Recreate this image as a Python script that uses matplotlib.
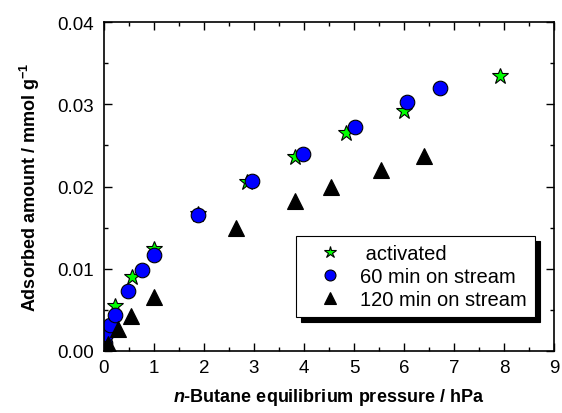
import matplotlib
matplotlib.use("Agg")
import matplotlib.pyplot as plt
from matplotlib.ticker import MultipleLocator

plt.rcParams["font.family"] = ["Liberation Sans", "DejaVu Sans"]
plt.rcParams["mathtext.fontset"] = "custom"
plt.rcParams["mathtext.rm"] = "Liberation Sans:bold"
plt.rcParams["mathtext.bfit"] = "Liberation Sans:italic:bold"

# activated sample
p_act = [0.23, 0.57, 1.01, 1.87, 2.86, 3.81, 4.83, 5.99, 7.91]
q_act = [0.0055, 0.0090, 0.0124, 0.0167, 0.0205, 0.0236, 0.0265, 0.0292, 0.0334]

# 60 min on stream
p_60 = [0.03, 0.05, 0.13, 0.23, 0.48, 0.77, 1.01, 1.87, 2.96, 3.98, 5.01, 6.06, 6.71]
q_60 = [0.0010, 0.0021, 0.0031, 0.0044, 0.0073, 0.0099, 0.0117, 0.0165, 0.0207,
        0.0239, 0.0272, 0.0303, 0.0320]

# 120 min on stream
p_120 = [0.03, 0.08, 0.29, 0.55, 1.01, 2.64, 3.81, 4.53, 5.53, 6.40]
q_120 = [0.0002, 0.0008, 0.0027, 0.0042, 0.0066, 0.0150, 0.0182, 0.0200, 0.0220, 0.0237]

fig = plt.figure(figsize=(5.62, 4.14), dpi=100)
ax = fig.add_axes([0.185, 0.150, 0.801, 0.794])

ax.plot(p_act, q_act, ls="none", marker="*", ms=12, mfc="#00ff00", mec="black",
        mew=0.8, label=" activated")
ax.plot(p_60, q_60, ls="none", marker="o", ms=10.5, mfc="#0000ff", mec="black",
        mew=0.8, label="60 min on stream")
ax.plot(p_120, q_120, ls="none", marker="^", ms=11, mfc="black", mec="black",
        mew=0.8, label="120 min on stream")

ax.set_xlim(0, 9)
ax.set_ylim(0, 0.04)
ax.xaxis.set_major_locator(MultipleLocator(1))
ax.xaxis.set_minor_locator(MultipleLocator(0.5))
ax.yaxis.set_major_locator(MultipleLocator(0.01))
ax.yaxis.set_minor_locator(MultipleLocator(0.005))
ax.yaxis.set_major_formatter(lambda v, pos: f"{v:.2f}")
ax.tick_params(which="both", direction="in", top=True, right=True, labelsize=13.5)
ax.tick_params(which="major", length=6, width=1)
ax.tick_params(which="minor", length=3, width=1)
ax.tick_params(axis="x", which="major", pad=6)
ax.tick_params(axis="y", which="major", pad=7)
for s in ax.spines.values():
    s.set_linewidth(1.2)

ax.set_xlabel(r"$\mathbfit{n}$-Butane equilibrium pressure / hPa", fontsize=13,
              fontweight="bold", labelpad=7)
ax.set_ylabel("Adsorbed amount / mmol g$^{-1}$", fontsize=13, fontweight="bold",
              labelpad=11)

leg = ax.legend(loc="lower right", bbox_to_anchor=(0.958, 0.103), borderaxespad=0,
                fontsize=14.5, fancybox=False, edgecolor="black", framealpha=1,
                shadow={"color": "black", "alpha": 1, "ox": 3.6, "oy": -3.6},
                markerscale=0.75, handletextpad=0.2, borderpad=0.4,
                labelspacing=0.2, handlelength=2.6)
leg.get_frame().set_linewidth(0.8)

fig.savefig("out.png", dpi=100)
